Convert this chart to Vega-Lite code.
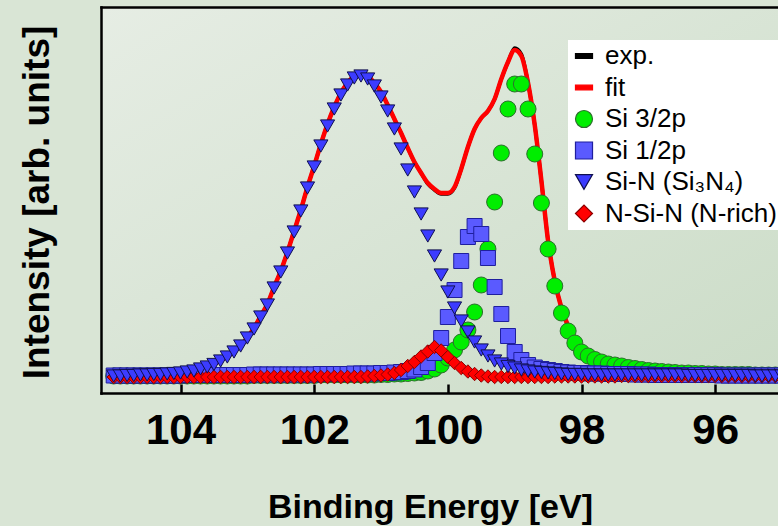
{
  "$schema": "https://vega.github.io/schema/vega-lite/v6.json",
  "width": 677,
  "height": 386,
  "autosize": {"type": "none"},
  "padding": {"left": 101, "top": 7, "right": 0, "bottom": 133},
  "background": "#d9e5d5",
  "config": {
    "font": "Liberation Sans",
    "view": {"stroke": null, "fill": {"expr": "{gradient: 'linear', x1: 0, y1: 0, x2: 1, y2: 1, stops: [{offset: 0, color: '#e6ede4'}, {offset: 1, color: '#cbdcc7'}]}"}},
    "axisX": {"grid": false, "domainColor": "black", "domainWidth": 2.5, "domainCap": "square", "tickColor": "black", "tickWidth": 2.5, "tickSize": -9, "labelFont": "Liberation Sans", "labelFontSize": 42, "labelFontWeight": "bold", "labelColor": "black", "labelPadding": 26, "titleFont": "Liberation Sans", "titleFontSize": 34, "titleFontWeight": "bold", "titleColor": "black"},
    "axisY": {"grid": false, "ticks": false, "labels": false, "domainColor": "black", "domainWidth": 2.5, "domainCap": "square", "titleFont": "Liberation Sans", "titleFontSize": 37, "titleFontWeight": "bold", "titleColor": "black"},
    "legend": {"fillColor": "white", "padding": 3, "labelFont": "Liberation Sans", "labelFontSize": 26, "labelColor": "black", "symbolSize": 290, "rowPadding": 5.5, "labelOffset": 8, "symbolStrokeWidth": 1.2, "labelLimit": 400, "symbolOpacity": 1}
  },
  "data": {"values": [
    {"E":105.0,"exp":17.5,"fit":17.5,"si32":17,"si12":17.5,"sin":17,"nsin":16},
    {"E":104.9,"exp":17.5,"fit":17.5,"si32":17,"si12":17.5,"sin":17,"nsin":16},
    {"E":104.8,"exp":18,"fit":18,"si32":17,"si12":17.5,"sin":17.5,"nsin":16},
    {"E":104.7,"exp":18,"fit":18,"si32":17,"si12":17.5,"sin":17.5,"nsin":16},
    {"E":104.6,"exp":18.5,"fit":18.5,"si32":17,"si12":17.5,"sin":18,"nsin":16},
    {"E":104.5,"exp":18.5,"fit":18.5,"si32":17,"si12":17.5,"sin":18,"nsin":16},
    {"E":104.4,"exp":19,"fit":19,"si32":17,"si12":17.5,"sin":18.5,"nsin":16},
    {"E":104.3,"exp":19,"fit":19,"si32":17,"si12":17.5,"sin":18.5,"nsin":16},
    {"E":104.2,"exp":19.5,"fit":19.5,"si32":17,"si12":17.5,"sin":19,"nsin":16},
    {"E":104.1,"exp":20,"fit":20,"si32":17,"si12":17.5,"sin":19.5,"nsin":16},
    {"E":104.0,"exp":20.5,"fit":20.5,"si32":17,"si12":17.5,"sin":20,"nsin":16},
    {"E":103.9,"exp":21.5,"fit":21.5,"si32":17,"si12":18,"sin":21,"nsin":16},
    {"E":103.8,"exp":22.5,"fit":22.5,"si32":17,"si12":18,"sin":22,"nsin":16},
    {"E":103.7,"exp":24.5,"fit":24.5,"si32":17,"si12":18,"sin":24,"nsin":16},
    {"E":103.6,"exp":26.5,"fit":26.5,"si32":17,"si12":18,"sin":26,"nsin":16},
    {"E":103.5,"exp":29,"fit":29,"si32":17,"si12":18,"sin":28.5,"nsin":16},
    {"E":103.4,"exp":32.5,"fit":32.5,"si32":17,"si12":18,"sin":32,"nsin":16},
    {"E":103.3,"exp":36.5,"fit":36.5,"si32":17,"si12":18,"sin":36,"nsin":16},
    {"E":103.2,"exp":41.5,"fit":41.5,"si32":17,"si12":18,"sin":41,"nsin":16},
    {"E":103.1,"exp":47.5,"fit":47.5,"si32":17,"si12":18,"sin":47,"nsin":16},
    {"E":103.0,"exp":55.5,"fit":55.5,"si32":17,"si12":18,"sin":55,"nsin":16},
    {"E":102.9,"exp":65,"fit":65,"si32":17.5,"si12":18.5,"sin":64,"nsin":16},
    {"E":102.8,"exp":77,"fit":77,"si32":17.5,"si12":18.5,"sin":76,"nsin":16},
    {"E":102.7,"exp":89,"fit":89,"si32":17.5,"si12":18.5,"sin":88,"nsin":16},
    {"E":102.6,"exp":106,"fit":106,"si32":17.5,"si12":18.5,"sin":105,"nsin":16},
    {"E":102.5,"exp":122,"fit":122,"si32":17.5,"si12":18.5,"sin":121,"nsin":16},
    {"E":102.4,"exp":141,"fit":141,"si32":17.5,"si12":18.5,"sin":140,"nsin":16},
    {"E":102.3,"exp":162,"fit":162,"si32":17.5,"si12":18.5,"sin":161,"nsin":16},
    {"E":102.2,"exp":183,"fit":183,"si32":17.5,"si12":18.5,"sin":182,"nsin":16},
    {"E":102.1,"exp":206,"fit":206,"si32":17.5,"si12":18.5,"sin":205,"nsin":16},
    {"E":102.0,"exp":227,"fit":227,"si32":17.5,"si12":18.5,"sin":226,"nsin":16},
    {"E":101.9,"exp":249,"fit":249,"si32":18,"si12":19,"sin":247,"nsin":16},
    {"E":101.8,"exp":269,"fit":269,"si32":18,"si12":19,"sin":267,"nsin":16},
    {"E":101.7,"exp":286,"fit":286,"si32":18,"si12":19,"sin":284,"nsin":16},
    {"E":101.6,"exp":300,"fit":300,"si32":18,"si12":19,"sin":298,"nsin":16},
    {"E":101.5,"exp":310,"fit":310,"si32":18,"si12":19,"sin":308,"nsin":16},
    {"E":101.4,"exp":317,"fit":317,"si32":18,"si12":19.5,"sin":315,"nsin":16},
    {"E":101.3,"exp":319,"fit":319,"si32":18,"si12":19.5,"sin":317,"nsin":16},
    {"E":101.2,"exp":317,"fit":317,"si32":18,"si12":19.5,"sin":314,"nsin":16.5},
    {"E":101.1,"exp":310,"fit":310,"si32":18,"si12":19.5,"sin":307,"nsin":17},
    {"E":101.0,"exp":301,"fit":301,"si32":18.5,"si12":20,"sin":296,"nsin":17.5},
    {"E":100.9,"exp":288,"fit":288,"si32":18.5,"si12":20,"sin":282,"nsin":18.5},
    {"E":100.8,"exp":274,"fit":274,"si32":19,"si12":20.5,"sin":264,"nsin":20},
    {"E":100.7,"exp":260,"fit":260,"si32":19,"si12":21,"sin":244,"nsin":23},
    {"E":100.6,"exp":245,"fit":245,"si32":19.5,"si12":22,"sin":223,"nsin":27},
    {"E":100.5,"exp":231,"fit":231,"si32":20,"si12":23.5,"sin":201,"nsin":31},
    {"E":100.4,"exp":220,"fit":220,"si32":20.5,"si12":26,"sin":179,"nsin":36.5},
    {"E":100.3,"exp":209,"fit":210,"si32":22,"si12":30,"sin":157,"nsin":41.5},
    {"E":100.2,"exp":203,"fit":204,"si32":24,"si12":40,"sin":137,"nsin":46},
    {"E":100.1,"exp":199,"fit":200,"si32":28,"si12":55,"sin":118,"nsin":42.5},
    {"E":100.0,"exp":199,"fit":200,"si32":35,"si12":76,"sin":101,"nsin":36},
    {"E":99.9,"exp":205,"fit":206,"si32":43,"si12":103,"sin":85,"nsin":30},
    {"E":99.8,"exp":224,"fit":224,"si32":51,"si12":132,"sin":72,"nsin":25},
    {"E":99.7,"exp":246,"fit":246,"si32":63,"si12":156,"sin":61,"nsin":21.5},
    {"E":99.6,"exp":264,"fit":264,"si32":81,"si12":167,"sin":51,"nsin":19},
    {"E":99.5,"exp":275,"fit":275,"si32":108,"si12":159,"sin":43,"nsin":17.5},
    {"E":99.4,"exp":282,"fit":282,"si32":144,"si12":135,"sin":37,"nsin":16.5},
    {"E":99.3,"exp":294,"fit":294,"si32":191,"si12":106,"sin":32,"nsin":16},
    {"E":99.2,"exp":314,"fit":314,"si32":240,"si12":79,"sin":29,"nsin":16},
    {"E":99.1,"exp":331,"fit":331,"si32":284,"si12":57,"sin":26.5,"nsin":16},
    {"E":99.0,"exp":345,"fit":343,"si32":309,"si12":41,"sin":25,"nsin":16},
    {"E":98.9,"exp":339,"fit":337,"si32":309,"si12":33,"sin":23,"nsin":16},
    {"E":98.8,"exp":310,"fit":310,"si32":284,"si12":28,"sin":22,"nsin":16},
    {"E":98.7,"exp":268,"fit":268,"si32":239,"si12":25.5,"sin":21,"nsin":16},
    {"E":98.6,"exp":212,"fit":212,"si32":190,"si12":24,"sin":20.5,"nsin":16},
    {"E":98.5,"exp":152,"fit":152,"si32":144,"si12":23,"sin":20,"nsin":16},
    {"E":98.4,"exp":112,"fit":112,"si32":107,"si12":22,"sin":19.5,"nsin":16.5},
    {"E":98.3,"exp":85,"fit":85,"si32":80,"si12":21,"sin":19,"nsin":16.5},
    {"E":98.2,"exp":67,"fit":67,"si32":62,"si12":20.5,"sin":18.5,"nsin":16.5},
    {"E":98.1,"exp":55,"fit":55,"si32":50,"si12":20,"sin":18.5,"nsin":16.5},
    {"E":98.0,"exp":46,"fit":46,"si32":41,"si12":20,"sin":18.5,"nsin":16.5},
    {"E":97.9,"exp":40,"fit":40,"si32":37,"si12":19.5,"sin":18,"nsin":16.5},
    {"E":97.8,"exp":36.5,"fit":36.5,"si32":33.5,"si12":19.5,"sin":18,"nsin":16.5},
    {"E":97.7,"exp":33.5,"fit":33.5,"si32":31,"si12":19.5,"sin":18,"nsin":16.5},
    {"E":97.6,"exp":31.5,"fit":31.5,"si32":29,"si12":19,"sin":18,"nsin":16.5},
    {"E":97.5,"exp":30,"fit":30,"si32":28,"si12":19,"sin":18,"nsin":16.5},
    {"E":97.4,"exp":29,"fit":29,"si32":27,"si12":19,"sin":18,"nsin":17},
    {"E":97.3,"exp":28,"fit":28,"si32":25.5,"si12":19,"sin":18,"nsin":17},
    {"E":97.2,"exp":27,"fit":27,"si32":24.5,"si12":18.5,"sin":18,"nsin":17},
    {"E":97.1,"exp":26,"fit":26,"si32":23.5,"si12":18.5,"sin":18,"nsin":17},
    {"E":97.0,"exp":25,"fit":25,"si32":22.5,"si12":18.5,"sin":18,"nsin":17},
    {"E":96.9,"exp":24.5,"fit":24.5,"si32":22,"si12":18,"sin":18,"nsin":17},
    {"E":96.8,"exp":24,"fit":24,"si32":21.5,"si12":18,"sin":18,"nsin":17},
    {"E":96.7,"exp":23.5,"fit":23.5,"si32":21,"si12":18,"sin":18,"nsin":17},
    {"E":96.6,"exp":23,"fit":23,"si32":20.5,"si12":18,"sin":18,"nsin":17},
    {"E":96.5,"exp":22.5,"fit":22.5,"si32":20,"si12":18,"sin":18,"nsin":17},
    {"E":96.4,"exp":22,"fit":22,"si32":20,"si12":18,"sin":17.5,"nsin":17},
    {"E":96.3,"exp":21.5,"fit":21.5,"si32":19.5,"si12":18,"sin":17.5,"nsin":17},
    {"E":96.2,"exp":21.5,"fit":21.5,"si32":19.5,"si12":18,"sin":17.5,"nsin":17},
    {"E":96.1,"exp":21,"fit":21,"si32":19,"si12":18,"sin":17.5,"nsin":17},
    {"E":96.0,"exp":21,"fit":21,"si32":19,"si12":18,"sin":17.5,"nsin":17},
    {"E":95.9,"exp":20.5,"fit":20.5,"si32":18.5,"si12":17.5,"sin":17.5,"nsin":17},
    {"E":95.8,"exp":20.5,"fit":20.5,"si32":18.5,"si12":17.5,"sin":17.5,"nsin":17},
    {"E":95.7,"exp":20,"fit":20,"si32":18.5,"si12":17.5,"sin":17.5,"nsin":17},
    {"E":95.6,"exp":20,"fit":20,"si32":18.5,"si12":17.5,"sin":17.5,"nsin":17},
    {"E":95.5,"exp":20,"fit":20,"si32":18.5,"si12":17.5,"sin":17.5,"nsin":17},
    {"E":95.4,"exp":19.5,"fit":19.5,"si32":18,"si12":17.5,"sin":17,"nsin":17},
    {"E":95.3,"exp":19.5,"fit":19.5,"si32":18,"si12":17.5,"sin":17,"nsin":17},
    {"E":95.2,"exp":19.5,"fit":19.5,"si32":18,"si12":17.5,"sin":17,"nsin":17},
    {"E":95.1,"exp":19,"fit":19,"si32":18,"si12":17.5,"sin":17,"nsin":17},
    {"E":95.0,"exp":19,"fit":19,"si32":18,"si12":17.5,"sin":17,"nsin":17}
  ]},
  "resolve": {"axis": {"x": "independent"}},
  "layer": [
    {
      "mark": {"type": "line", "color": "black", "strokeWidth": 3.5, "interpolate": "monotone"},
      "encoding": {
        "x": {"field": "E", "type": "quantitative", "scale": {"domain": [95.06, 105.19], "reverse": true, "nice": false, "zero": false},
              "axis": {"orient": "bottom", "values": [104, 102, 100, 98, 96], "title": "Binding Energy [eV]", "titleX": 329, "titleY": 124, "titleBaseline": "alphabetic", "titleAlign": "center", "labelFlush": false, "labelOverlap": false}},
        "y": {"field": "exp", "type": "quantitative", "title": "Intensity [arb. units]", "scale": {"domain": [0, 386], "nice": false, "zero": false},
              "axis": {"titleX": -53, "titleY": 195, "titleAngle": 270, "titleBaseline": "alphabetic", "titleAlign": "center"}}
      }
    },
    {
      "mark": {"type": "line", "color": "#ff0000", "strokeWidth": 4.5, "interpolate": "monotone"},
      "encoding": {
        "x": {"field": "E", "type": "quantitative", "axis": {"orient": "top", "ticks": false, "labels": false, "title": null, "domain": true}},
        "y": {"field": "fit", "type": "quantitative", "title": "Intensity [arb. units]"}
      }
    },
    {
      "mark": {"type": "point", "filled": true, "size": 256, "opacity": 1, "strokeWidth": 1},
      "encoding": {
        "x": {"field": "E", "type": "quantitative", "axis": null},
        "y": {"field": "si32", "type": "quantitative", "title": "Intensity [arb. units]"},
        "color": {"datum": "Si 3/2p", "scale": {"domain": ["exp.", "fit", "Si 3/2p", "Si 1/2p", "Si-N (Si₃N₄)", "N-Si-N (N-rich)"], "range": ["#000000", "#ff0000", "#00ee00", "#5a5aff", "#3c3cff", "#ff0000"]}, "legend": {"orient": "none", "legendX": 467, "legendY": 33, "title": null}},
        "shape": {"datum": "Si 3/2p", "scale": {"domain": ["exp.", "fit", "Si 3/2p", "Si 1/2p", "Si-N (Si₃N₄)", "N-Si-N (N-rich)"], "range": ["M-1,-0.28H1V0.28H-1Z", "M-1,-0.28H1V0.28H-1Z", "circle", "square", "triangle-down", "diamond"]}, "legend": {"orient": "none", "legendX": 467, "legendY": 33, "title": null}},
        "stroke": {"datum": "Si 3/2p", "scale": {"domain": ["exp.", "fit", "Si 3/2p", "Si 1/2p", "Si-N (Si₃N₄)", "N-Si-N (N-rich)"], "range": ["#000000", "#ff0000", "#2d6e2d", "#1f1f9e", "#101050", "#8b0000"]}, "legend": {"orient": "none", "legendX": 467, "legendY": 33, "title": null}}
      }
    },
    {
      "mark": {"type": "point", "filled": true, "size": 225, "opacity": 1, "strokeWidth": 1},
      "encoding": {
        "x": {"field": "E", "type": "quantitative", "axis": null},
        "y": {"field": "si12", "type": "quantitative", "title": "Intensity [arb. units]"},
        "color": {"datum": "Si 1/2p"},
        "shape": {"datum": "Si 1/2p"},
        "stroke": {"datum": "Si 1/2p"}
      }
    },
    {
      "mark": {"type": "point", "filled": true, "size": 180, "opacity": 1, "strokeWidth": 1},
      "encoding": {
        "x": {"field": "E", "type": "quantitative", "axis": null},
        "y": {"field": "nsin", "type": "quantitative", "title": "Intensity [arb. units]"},
        "color": {"datum": "N-Si-N (N-rich)"},
        "shape": {"datum": "N-Si-N (N-rich)"},
        "stroke": {"datum": "N-Si-N (N-rich)"}
      }
    },
    {
      "mark": {"type": "point", "filled": true, "size": 200, "opacity": 1, "strokeWidth": 1},
      "encoding": {
        "x": {"field": "E", "type": "quantitative", "axis": null},
        "y": {"field": "sin", "type": "quantitative", "title": "Intensity [arb. units]"},
        "color": {"datum": "Si-N (Si₃N₄)"},
        "shape": {"datum": "Si-N (Si₃N₄)"},
        "stroke": {"datum": "Si-N (Si₃N₄)"}
      }
    }
  ]
}
